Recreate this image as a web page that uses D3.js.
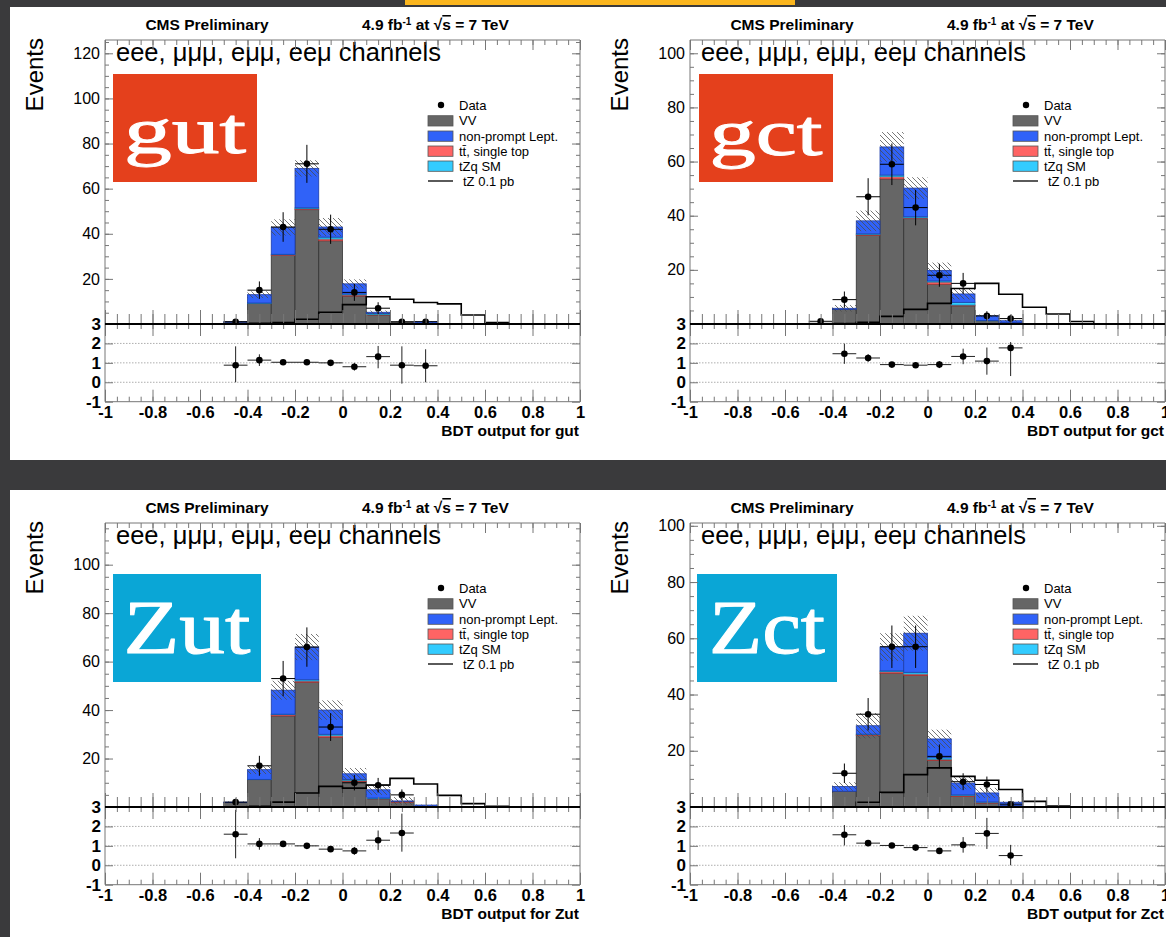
<!DOCTYPE html>
<html>
<head>
<meta charset="utf-8">
<script src="https://cdn.jsdelivr.net/npm/d3@7"></script>
<style>
body { margin: 0; background: #3a3a3c; }
svg { display: block; font-family: "Liberation Sans", Arial, sans-serif; }
</style>
</head>
<body>
<script>
// bins of width 0.1, only the non-empty range -0.5 .. 0.7 is listed
const binLow = [-0.5, -0.4, -0.3, -0.2, -0.1, 0, 0.1, 0.2, 0.3, 0.4, 0.5, 0.6];
const xTicks = [-1, -0.8, -0.6, -0.4, -0.2, 0, 0.2, 0.4, 0.6, 0.8, 1];
const ratioTicks = [-1, 0, 1, 2, 3];
const legendNames = ["Data", "VV", "non-prompt Lept.", "tt\u0304, single top", "tZq SM", "tZ 0.1 pb"];

// gut
const gutYTicks = [20, 40, 60, 80, 100, 120];
const gutVV   = [0.8, 9.2, 30.4, 50.7, 36.9, 12.4, 4.0, 0.8, 0.2, 0, 0, 0];
const gutTT   = [0, 0, 0.3, 0.4, 0.8, 0.5, 0.2, 0, 0, 0, 0, 0];
const gutTZQ  = [0, 0.1, 0.2, 0.4, 0.8, 0.4, 0.5, 0, 0, 0, 0, 0];
const gutNP   = [0.2, 3.7, 11.9, 17.5, 4.5, 4.5, 0.5, 0, 0.8, 0, 0, 0];
const gutUnc  = [0.3, 1.5, 3.6, 3.6, 4.0, 2.0, 0.8, 0.2, 0.3, 0, 0, 0];
const gutData = [1, 15, 43, 71, 42, 14, 7, 1, 1, 0, 0, 0];
const gutSig  = [0, 0.3, 0.6, 2.1, 5.2, 8.6, 12.1, 11, 9.5, 8.9, 4, 0.6];
const gutRatio   = [0.88, 1.14, 1.03, 1.03, 1.0, 0.8, 1.32, 0.88, 0.85, null, null, null];
const gutRatioLo = [0.88, 0.3, 0.1, 0.08, 0.12, 0.2, 0.6, 0.95, 0.85, 0, 0, 0];
const gutRatioHi = [0.97, 0.3, 0.1, 0.08, 0.12, 0.2, 0.55, 0.97, 0.85, 0, 0, 0];

// gct
const gctYTicks = [20, 40, 60, 80, 100];
const gctVV   = [0.3, 5.4, 32.8, 53.6, 38.9, 14.7, 6.7, 1.2, 0.5, 0, 0, 0];
const gctTT   = [0, 0, 0.3, 0.8, 0.3, 0.8, 0.3, 0, 0, 0, 0, 0];
const gctTZQ  = [0, 0, 0.2, 0.6, 0.4, 0.4, 1.0, 0.1, 0, 0, 0, 0];
const gctNP   = [0, 0.4, 4.8, 10.4, 10.6, 3.9, 3.1, 1.7, 0.7, 0, 0, 0];
const gctUnc  = [0, 1.2, 3.8, 5.5, 4.0, 2.9, 2.0, 0.5, 0.3, 0, 0, 0];
const gctData = [1, 9, 47, 59, 43, 18, 15, 3, 2, 0, 0, 0];
const gctSig  = [0, 0.2, 0.6, 2.8, 5.4, 7.6, 13.1, 15, 11, 6.2, 3.7, 0.9];
const gctRatio   = [null, 1.47, 1.25, 0.91, 0.88, 0.91, 1.33, 1.09, 1.77, null, null, null];
const gctRatioLo = [0, 0.52, 0.2, 0.1, 0.12, 0.18, 0.4, 0.7, 1.45, 0, 0, 0];
const gctRatioHi = [0, 0.52, 0.2, 0.1, 0.12, 0.18, 0.4, 0.7, 0.3, 0, 0, 0];

// Zut
const zutYTicks = [20, 40, 60, 80, 100];
const zutVV   = [1.8, 11.3, 37.6, 51.5, 28.8, 10.6, 3.3, 2.0, 0.2, 0, 0, 0];
const zutTT   = [0, 0, 0.5, 0.5, 0.6, 0.4, 0.1, 0.3, 0, 0, 0, 0];
const zutTZQ  = [0, 0.1, 0.2, 0.5, 0.6, 0.4, 0.3, 0, 0, 0, 0, 0];
const zutNP   = [0.2, 4.0, 9.9, 13.5, 10.0, 2.3, 3.4, 0.2, 0.6, 0, 0, 0];
const zutUnc  = [0.3, 1.8, 3.9, 5.4, 4.0, 2.4, 2.1, 1.6, 0.2, 0, 0, 0];
const zutData = [2, 17, 53, 66, 33, 10, 9, 5, 0, 0, 0, 0];
const zutSig  = [0, 0.3, 2, 5.8, 8.5, 7.8, 9.1, 11.8, 9.5, 4.8, 1.4, 0.3];
const zutRatio   = [1.6, 1.1, 1.1, 1.0, 0.83, 0.74, 1.29, 1.66, null, null, null, null];
const zutRatioLo = [1.24, 0.3, 0.15, 0.1, 0.12, 0.2, 0.5, 0.96, 0, 0, 0, 0];
const zutRatioHi = [1.25, 0.3, 0.15, 0.1, 0.12, 0.2, 0.5, 1.0, 0, 0, 0, 0];

// Zct
const zctYTicks = [20, 40, 60, 80, 100];
const zctVV   = [0, 5.6, 25.4, 47.6, 46.8, 16.6, 3.8, 1.4, 0.5, 0, 0, 0];
const zctTT   = [0, 0, 0.3, 0.5, 0.5, 0.4, 0.3, 0.3, 0, 0, 0, 0];
const zctTZQ  = [0, 0, 0.2, 0.3, 0.6, 0.5, 0.2, 0.1, 0, 0, 0, 0];
const zctNP   = [0, 1.7, 3.0, 8.5, 13.9, 6.7, 4.2, 3.2, 1.2, 0, 0, 0];
const zctUnc  = [0, 1.5, 4.5, 4.9, 6.2, 3.3, 2.2, 1.8, 0.4, 0, 0, 0];
const zctData = [0, 12, 33, 57, 57, 18, 9, 8, 1, 0, 0, 0];
const zctSig  = [0, 0, 1.7, 5.2, 11.5, 13.9, 10.9, 9.5, 6.2, 2, 0.3, 0];
const zctRatio   = [null, 1.57, 1.14, 1.02, 0.91, 0.74, 1.05, 1.64, 0.5, null, null, null];
const zctRatioLo = [0, 0.55, 0.15, 0.1, 0.1, 0.15, 0.4, 0.8, 0.5, 0, 0, 0];
const zctRatioHi = [0, 0.5, 0.15, 0.1, 0.1, 0.15, 0.4, 0.8, 0.55, 0, 0, 0];

const fills = { vv: "#666666", np: "#3062f8", tt: "#ff6464", tzq: "#33ccff" };
const lines = { vv: "#333333", np: "#1c3caa", tt: "#b03030", tzq: "#1590b8" };

const panels = [
  { name: "gut", ox: 0, oy: 0, yMax: 125.9, yTicks: gutYTicks, vv: gutVV, tt: gutTT, tzq: gutTZQ, np: gutNP,
    unc: gutUnc, data: gutData, sig: gutSig, ratio: gutRatio, rLo: gutRatioLo, rHi: gutRatioHi,
    logo: "#e4401c", box: [113, 74, 144, 108], logoY: 153, logoW: 122, logoSize: 66 },
  { name: "gct", ox: 585, oy: 0, yMax: 104.9, yTicks: gctYTicks, vv: gctVV, tt: gctTT, tzq: gctTZQ, np: gctNP,
    unc: gctUnc, data: gctData, sig: gctSig, ratio: gctRatio, rLo: gctRatioLo, rHi: gctRatioHi,
    logo: "#e4401c", box: [114, 74, 134, 108], logoY: 155, logoW: 113, logoSize: 66 },
  { name: "Zut", ox: 0, oy: 483, yMax: 117.2, yTicks: zutYTicks, vv: zutVV, tt: zutTT, tzq: zutTZQ, np: zutNP,
    unc: zutUnc, data: zutData, sig: zutSig, ratio: zutRatio, rLo: zutRatioLo, rHi: zutRatioHi,
    logo: "#0aa6d6", box: [113, 91, 148, 108], logoY: 170, logoW: 127, logoSize: 76 },
  { name: "Zct", ox: 585, oy: 483, yMax: 101, yTicks: zctYTicks, vv: zctVV, tt: zctTT, tzq: zctTZQ, np: zctNP,
    unc: zctUnc, data: zctData, sig: zctSig, ratio: zctRatio, rLo: zctRatioLo, rHi: zctRatioHi,
    logo: "#0aa6d6", box: [112, 91, 140, 108], logoY: 170, logoW: 116, logoSize: 76 }
];

const W = 1166, H = 937;
const svg = d3.select("body").append("svg").attr("width", W).attr("height", H);

svg.append("rect").attr("width", W).attr("height", H).attr("fill", "#3a3a3c");
svg.append("rect").attr("x", 405).attr("y", 0).attr("width", 390).attr("height", 5).attr("fill", "#fbb61e");
svg.append("rect").attr("x", 10).attr("y", 7).attr("width", W - 10).attr("height", 453).attr("fill", "#fff");
svg.append("rect").attr("x", 10).attr("y", 490).attr("width", W - 10).attr("height", 447).attr("fill", "#fff");

const defs = svg.append("defs");
defs.append("pattern").attr("id", "hatch").attr("patternUnits", "userSpaceOnUse")
  .attr("width", 5).attr("height", 5)
  .append("path").attr("d", "M0,0L5,5M-1,4L1,6M4,-1L6,1")
  .attr("stroke", "#4a4a4a").attr("stroke-width", 0.75);

const minorX = d3.range(-20, 21).map(i => i * 0.05);
const plain = d => String(d);

function tickRow(g, axis, pos, attr, size) {
  const a = g.append("g").attr("transform", attr === "x" ? `translate(0,${pos})` : `translate(${pos},0)`)
    .call(axis.tickSize(size).tickFormat(""));
  a.select(".domain").remove();
  a.selectAll("line").attr("stroke", "#777").attr("stroke-width", 1);
}

function drawPanel(p) {
  const g = svg.append("g").attr("transform", `translate(${p.ox},${p.oy})`);
  const x0 = 105, x1 = 580, top = 40, base = 324, rBot = 401.7;
  const x = d3.scaleLinear().domain([-1, 1]).range([x0, x1]);
  const y = d3.scaleLinear().domain([0, p.yMax]).range([base, top]);
  const yr = d3.scaleLinear().domain([-1, 3]).range([rBot, base]);

  // header
  g.append("text").attr("x", 207).attr("y", 30).attr("text-anchor", "middle")
    .attr("font-weight", "bold").attr("font-size", 15.5).text("CMS Preliminary");
  const lumi = g.append("text").attr("x", 362).attr("y", 30).attr("font-weight", "bold").attr("font-size", 15.5);
  lumi.append("tspan").text("4.9 fb");
  lumi.append("tspan").attr("baseline-shift", "super").attr("font-size", 10).text("-1");
  lumi.append("tspan").text(" at \u221A");
  lumi.append("tspan").style("text-decoration", "overline").text("s");
  lumi.append("tspan").text(" = 7 TeV");

  g.append("text").attr("transform", "translate(43,38) rotate(-90)").attr("text-anchor", "end")
    .attr("font-size", 24).text("Events");

  // stack
  const rows = binLow.map((lo, i) => ({ lo, vv: p.vv[i], tt: p.tt[i], tzq: p.tzq[i], np: p.np[i] }));
  const series = d3.stack().keys(["vv", "tt", "tzq", "np"])(rows);
  g.append("g").selectAll("g").data(series).join("g")
    .attr("fill", d => fills[d.key]).attr("stroke", d => lines[d.key]).attr("stroke-width", 0.8)
    .selectAll("rect").data(d => d.filter(s => s[1] > s[0])).join("rect")
    .attr("x", d => x(d.data.lo)).attr("width", d => x(d.data.lo + 0.1) - x(d.data.lo))
    .attr("y", d => y(d[1])).attr("height", d => y(d[0]) - y(d[1]));

  // uncertainty hatch
  const tot = rows.map(r => r.vv + r.tt + r.tzq + r.np);
  g.append("g").selectAll("rect").data(binLow.map((lo, i) => ({ lo, t: tot[i], u: p.unc[i] })).filter(d => d.u > 0))
    .join("rect")
    .attr("x", d => x(d.lo)).attr("width", d => x(d.lo + 0.1) - x(d.lo))
    .attr("y", d => y(d.t + d.u)).attr("height", d => y(Math.max(0, d.t - d.u)) - y(d.t + d.u))
    .attr("fill", "url(#hatch)");

  // signal step line
  const sigPts = [{ lo: -1, v: 0 }].concat(binLow.map((lo, i) => ({ lo, v: p.sig[i] })), [{ lo: 0.7, v: 0 }, { lo: 1, v: 0 }]);
  g.append("path").datum(sigPts)
    .attr("d", d3.line().x(d => x(d.lo)).y(d => y(d.v)).curve(d3.curveStepAfter))
    .attr("fill", "none").attr("stroke", "#000").attr("stroke-width", 1.6);

  // data points
  const pts = binLow.map((lo, i) => ({ c: lo + 0.05, v: p.data[i] })).filter(d => d.v > 0);
  const dp = g.append("g").attr("stroke", "#000").attr("stroke-width", 1);
  dp.selectAll("line.v").data(pts).join("line").attr("class", "v")
    .attr("x1", d => x(d.c)).attr("x2", d => x(d.c))
    .attr("y1", d => y(d.v + Math.sqrt(d.v))).attr("y2", d => y(Math.max(0, d.v - Math.sqrt(d.v))));
  dp.selectAll("line.h").data(pts).join("line").attr("class", "h")
    .attr("x1", d => x(d.c - 0.05)).attr("x2", d => x(d.c + 0.05))
    .attr("y1", d => y(d.v)).attr("y2", d => y(d.v));
  dp.selectAll("circle").data(pts).join("circle")
    .attr("cx", d => x(d.c)).attr("cy", d => y(d.v)).attr("r", 3.3).attr("fill", "#000").attr("stroke", "none");

  // channels text
  g.append("text").attr("x", 116).attr("y", 61).attr("font-size", 25.5).text("eee, \u03BC\u03BC\u03BC, e\u03BC\u03BC, ee\u03BC channels");

  // logo
  g.append("rect").attr("x", p.box[0]).attr("y", p.box[1]).attr("width", p.box[2]).attr("height", p.box[3]).attr("fill", p.logo);
  g.append("text").attr("x", p.box[0] + p.box[2] / 2 - p.logoW / 2).attr("y", p.logoY)
    .attr("textLength", p.logoW).attr("lengthAdjust", "spacingAndGlyphs")
    .attr("font-family", "'Liberation Serif', serif").attr("font-size", p.logoSize)
    .attr("fill", "#fff").attr("stroke", "#fff").attr("stroke-width", 1).attr("stroke-linejoin", "round")
    .text(p.name);

  // legend
  const lg = g.append("g").attr("font-size", 13);
  lg.append("circle").attr("cx", 441).attr("cy", 105).attr("r", 3.2).attr("fill", "#000");
  lg.append("text").attr("x", 459).attr("y", 109.5).text(legendNames[0]);
  const entries = [{ k: "vv", n: 1, y: 115.7 }, { k: "np", n: 2, y: 131 }, { k: "tt", n: 3, y: 146 }, { k: "tzq", n: 4, y: 161 }];
  lg.selectAll("rect").data(entries).join("rect")
    .attr("x", 428).attr("y", d => d.y).attr("width", 25).attr("height", 10.3)
    .attr("fill", d => fills[d.k]).attr("stroke", "#555").attr("stroke-width", 0.8);
  lg.selectAll("text.e").data(entries).join("text").attr("class", "e")
    .attr("x", 459).attr("y", d => d.y + 9.6).text(d => legendNames[d.n]);
  lg.append("line").attr("x1", 428).attr("x2", 453).attr("y1", 181).attr("y2", 181).attr("stroke", "#000").attr("stroke-width", 1.3);
  lg.append("text").attr("x", 463).attr("y", 185.5).text(legendNames[5]);

  // ratio grid
  g.append("g").selectAll("line").data([0, 1, 2]).join("line")
    .attr("x1", x0).attr("x2", x1).attr("y1", d => yr(d)).attr("y2", d => yr(d))
    .attr("stroke", "#999").attr("stroke-width", 0.8).attr("stroke-dasharray", "1.5,1.5");

  // ratio points
  const rp = binLow.map((lo, i) => ({ c: lo + 0.05, v: p.ratio[i], lo: p.rLo[i], hi: p.rHi[i] })).filter(d => d.v !== null);
  const rg = g.append("g").attr("stroke", "#222").attr("stroke-width", 1);
  rg.selectAll("line.v").data(rp).join("line").attr("class", "v")
    .attr("x1", d => x(d.c)).attr("x2", d => x(d.c))
    .attr("y1", d => yr(d.v + d.hi)).attr("y2", d => yr(d.v - d.lo));
  rg.selectAll("line.h").data(rp).join("line").attr("class", "h")
    .attr("x1", d => x(d.c - 0.05)).attr("x2", d => x(d.c + 0.05))
    .attr("y1", d => yr(d.v)).attr("y2", d => yr(d.v));
  rg.selectAll("circle").data(rp).join("circle")
    .attr("cx", d => x(d.c)).attr("cy", d => yr(d.v)).attr("r", 3.3).attr("fill", "#000").attr("stroke", "none");

  // ticks
  tickRow(g, d3.axisTop(x).tickValues(minorX), top, "x", -5);
  tickRow(g, d3.axisTop(x).tickValues(xTicks), top, "x", -10);
  tickRow(g, d3.axisBottom(x).tickValues(minorX), base, "x", -10);
  tickRow(g, d3.axisBottom(x).tickValues(xTicks), base, "x", -14);
  tickRow(g, d3.axisTop(x).tickValues(minorX), base, "x", -5);
  tickRow(g, d3.axisTop(x).tickValues(xTicks), base, "x", -12);
  tickRow(g, d3.axisBottom(x).tickValues(minorX), rBot, "x", -5);
  tickRow(g, d3.axisBottom(x).tickValues(xTicks), rBot, "x", -12);
  const minorY = d3.range(5, p.yMax, 5);
  tickRow(g, d3.axisLeft(y).tickValues(minorY), x0, "y", -4);
  tickRow(g, d3.axisLeft(y).tickValues(p.yTicks), x0, "y", -8);
  tickRow(g, d3.axisRight(y).tickValues(minorY), x1, "y", -4);
  tickRow(g, d3.axisRight(y).tickValues(p.yTicks), x1, "y", -8);
  tickRow(g, d3.axisLeft(yr).tickValues(ratioTicks), x0, "y", -8);
  tickRow(g, d3.axisRight(yr).tickValues(ratioTicks), x1, "y", -8);

  // labels
  const ya = g.append("g").attr("transform", `translate(${x0},0)`)
    .call(d3.axisLeft(y).tickValues(p.yTicks).tickSize(0).tickPadding(5).tickFormat(plain));
  ya.select(".domain").remove();
  ya.selectAll("text").attr("font-size", 16).attr("font-family", "'Liberation Sans', Arial").attr("fill", "#000");

  const ra = g.append("g").attr("transform", `translate(${x0},0)`)
    .call(d3.axisLeft(yr).tickValues(ratioTicks).tickSize(0).tickPadding(4).tickFormat(plain));
  ra.select(".domain").remove();
  ra.selectAll("text").attr("font-size", 17).attr("font-weight", "bold").attr("font-family", "'Liberation Sans', Arial").attr("fill", "#000");

  const xa = g.append("g").attr("transform", `translate(0,${rBot})`)
    .call(d3.axisBottom(x).tickValues(xTicks).tickSize(0).tickPadding(5).tickFormat(plain));
  xa.select(".domain").remove();
  xa.selectAll("text").attr("font-size", 16.5).attr("font-weight", "bold").attr("font-family", "'Liberation Sans', Arial").attr("fill", "#000");

  g.append("text").attr("x", x1 - 1).attr("y", 435.5).attr("text-anchor", "end")
    .attr("font-weight", "bold").attr("font-size", 15.5).text("BDT output for " + p.name);

  // frame
  g.append("path").attr("d", `M${x0},${base}V${top}H${x1}V${base}M${x0},${base}V${rBot}H${x1}V${base}`)
    .attr("fill", "none").attr("stroke", "#777").attr("stroke-width", 1);
  g.append("line").attr("x1", x0).attr("x2", x1).attr("y1", base).attr("y2", base)
    .attr("stroke", "#000").attr("stroke-width", 2);
}

panels.forEach(drawPanel);
</script>
</body>
</html>
